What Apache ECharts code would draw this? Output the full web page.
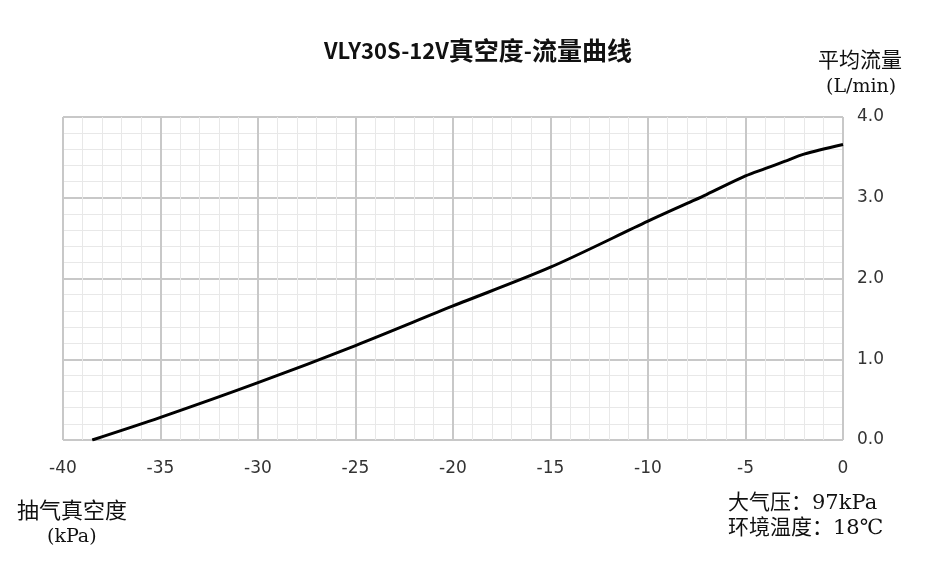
<!DOCTYPE html>
<html>
<head>
<meta charset="utf-8">
<script src="https://cdn.jsdelivr.net/npm/echarts@6/dist/echarts.min.js"></script>
<style>html,body{margin:0;padding:0;background:#fff;}#c{width:927px;height:561px;}</style>
</head>
<body>
<div id="c"></div>
<script>
const titleLatin = 'VLY30S-12V';
const titleCjk1 = '真空度';
const titleDash = '-';
const titleCjk2 = '流量曲线';
const vacuum = [-38.5, -35, -30, -25, -20, -15, -10, -8, -7, -5, -4, -3, -2, 0];
const flow   = [0, 0.28, 0.71, 1.17, 1.66, 2.14, 2.71, 2.93, 3.04, 3.27, 3.36, 3.45, 3.54, 3.66];
const yName = ['平均流量', '(L/min)'];
const xName = ['抽气真空度', '(kPa)'];
const notes = ['大气压：97kPa', '环境温度：18℃'];

const chart = echarts.init(document.getElementById('c'));
const serif = '"DejaVu Serif", "Noto Sans CJK SC", serif';
const sans = '"Noto Sans CJK SC", sans-serif';
chart.setOption({
  animation: false,
  backgroundColor: '#fff',
  title: {
    text: '{a|' + titleLatin + '}{b|' + titleCjk1 + '}{a|' + titleDash + '}{b|' + titleCjk2 + '}',
    left: 319, top: 33,
    textStyle: {
      rich: {
        a: {fontFamily: sans, fontWeight: 'bold', fontSize: 22, color: '#111'},
        b: {fontFamily: sans, fontWeight: 'bold', fontSize: 25, color: '#111'}
      }
    }
  },
  grid: {left: 63, right: 84, top: 117, bottom: 121},
  xAxis: {
    type: 'value', min: -40, max: 0, interval: 5,
    axisLine: {show: false}, axisTick: {show: false},
    axisLabel: {margin: 20, fontSize: 17, color: '#333', fontFamily: '"DejaVu Sans", sans-serif'},
    splitLine: {show: true, lineStyle: {color: '#c8c8c8', width: 2}},
    minorTick: {show: false, splitNumber: 5},
    minorSplitLine: {show: true, lineStyle: {color: '#e8e8e8', width: 1}}
  },
  yAxis: {
    type: 'value', position: 'right', min: 0, max: 4, interval: 1,
    axisLine: {show: false}, axisTick: {show: false},
    axisLabel: {margin: 14, fontSize: 17, color: '#333', fontFamily: '"DejaVu Sans", sans-serif',
      formatter: v => v.toFixed(1)},
    splitLine: {show: true, lineStyle: {color: '#c8c8c8', width: 2}},
    minorTick: {show: false, splitNumber: 5},
    minorSplitLine: {show: true, lineStyle: {color: '#e8e8e8', width: 1}}
  },
  series: [{
    type: 'line', data: vacuum.map((x, i) => [x, flow[i]]),
    smooth: 0.3, showSymbol: false,
    lineStyle: {color: '#000', width: 3}
  }],
  graphic: [
    {type: 'text', left: 818, top: 51, style: {text: yName[0], font: '21px ' + serif, fill: '#111'}},
    {type: 'text', left: 826, top: 78, style: {text: yName[1], font: '19px ' + serif, fill: '#111'}},
    {type: 'text', left: 17, top: 501, style: {text: xName[0], font: '22px ' + serif, fill: '#111'}},
    {type: 'text', left: 47, top: 528, style: {text: xName[1], font: '19px ' + serif, fill: '#111'}},
    {type: 'text', left: 728, top: 493, style: {text: notes[0], font: '21px ' + serif, fill: '#111'}},
    {type: 'text', left: 728, top: 518, style: {text: notes[1], font: '21px ' + serif, fill: '#111'}}
  ]
});
</script>
</body>
</html>
